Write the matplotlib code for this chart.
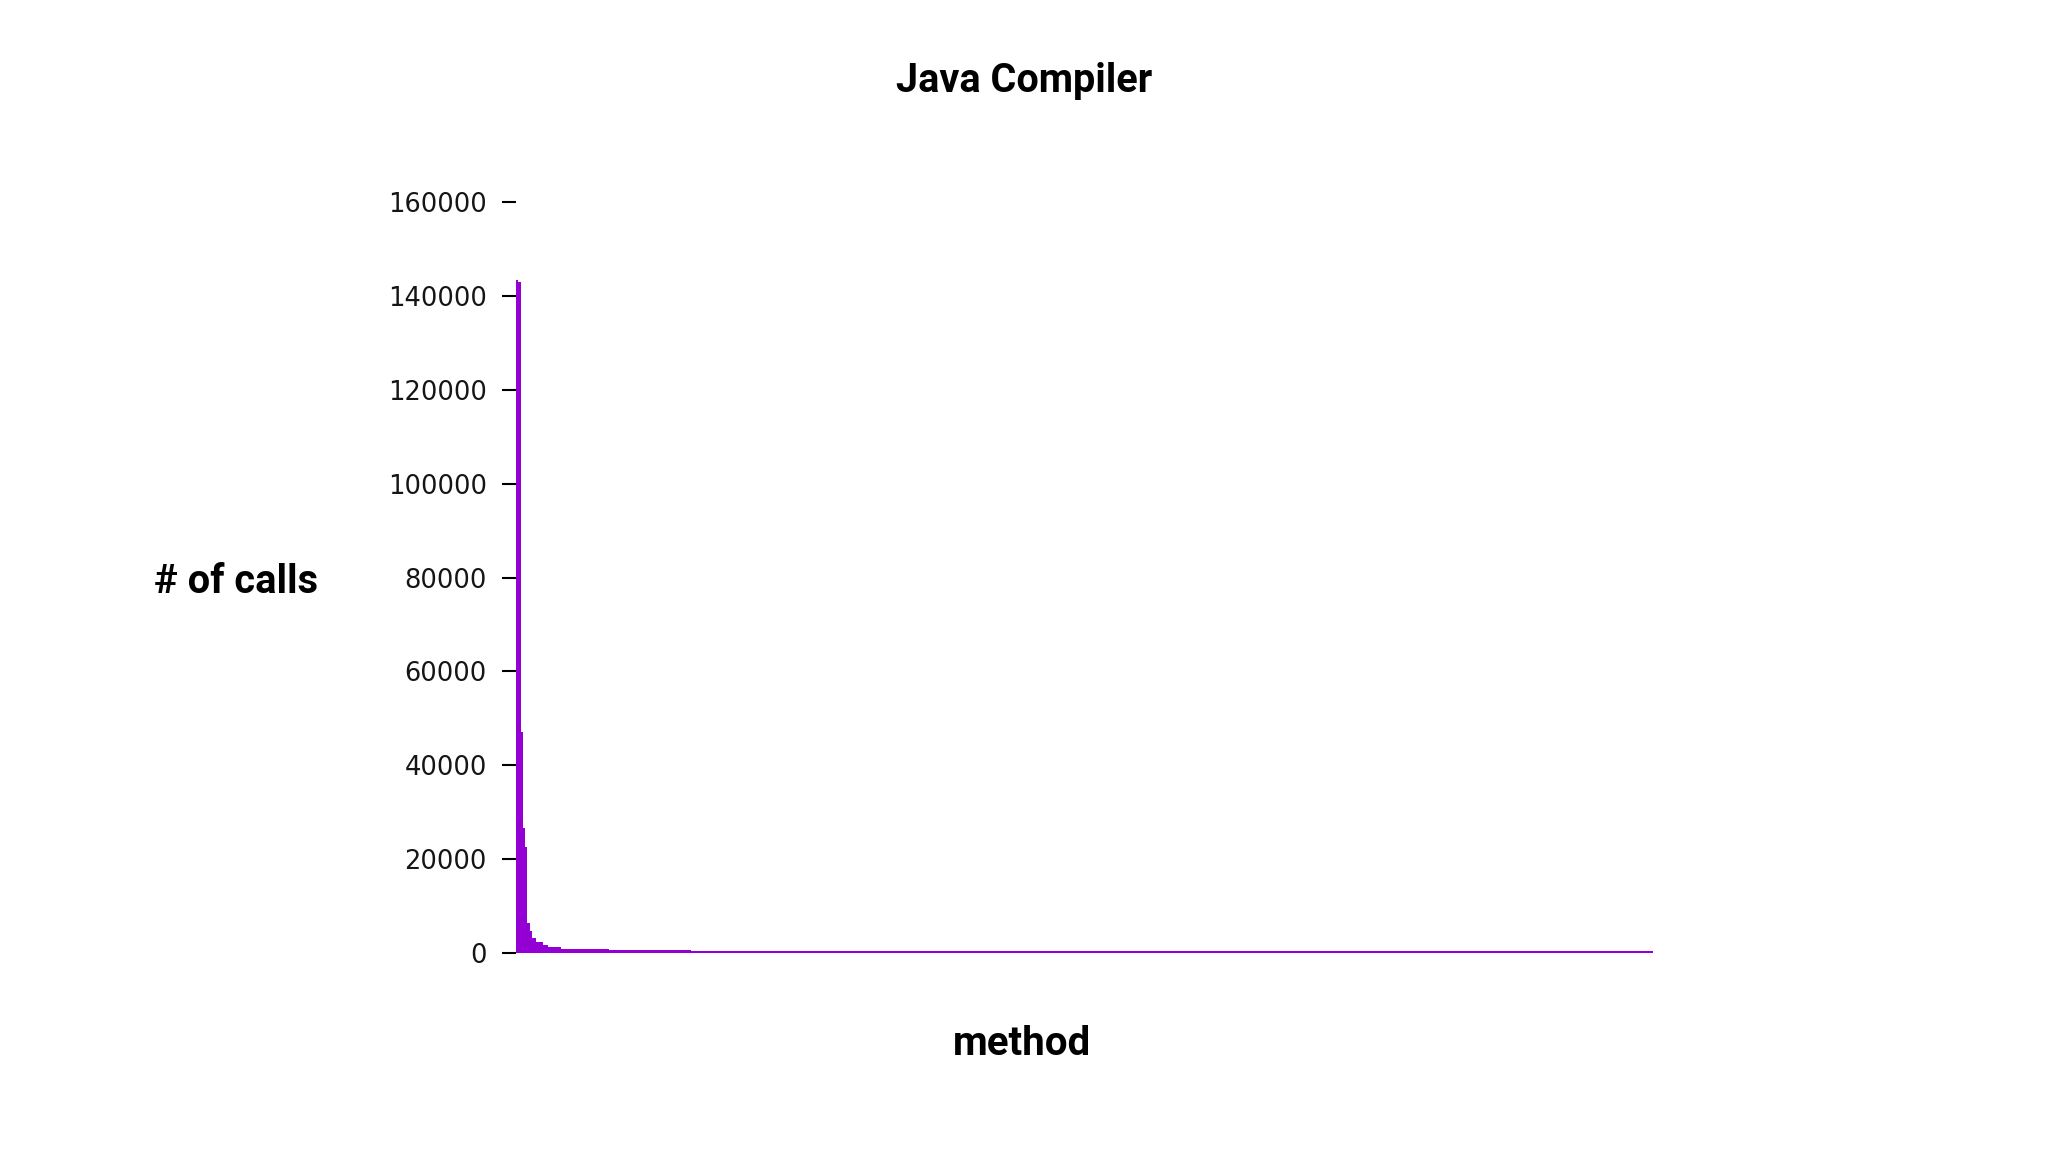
"""Call counts per method for the Java compiler, sorted descending."""

import matplotlib.pyplot as plt
import numpy as np

# head of the distribution, one value per method
head_calls = [143300, 143000, 47000, 26600, 22500, 6400, 4700, 3300, 3200,
              2300, 2300, 2300, 1700, 1700, 1300, 1300, 1300, 1300, 1300, 1300]
# long flat tail, stored as (level, number of methods at that level)
tail_levels = [850, 700, 600, 520, 450]
tail_counts = [21, 18, 18, 78, 345]

y_ticks = [0, 20000, 40000, 60000, 80000, 100000, 120000, 140000, 160000]

calls = np.array(head_calls + [lvl for lvl, n in zip(tail_levels, tail_counts) for _ in range(n)])
methods = np.arange(len(calls))

fig = plt.figure(figsize=(20.48, 11.52), dpi=100)
ax = fig.add_axes([516 / 2048, 1 - 953 / 1152, (1653 - 516) / 2048, (953 - 202) / 1152])

ax.bar(methods, calls, width=1.0, color="#9400D3", linewidth=0)
ax.set_xlim(-0.5, len(calls) - 0.5)
ax.set_ylim(0, 160000)
ax.set_yticks(y_ticks)
ax.set_yticklabels([str(t) for t in y_ticks], fontsize=18.5, color="#151515", family="DejaVu Sans")
ax.tick_params(axis="y", length=10, width=1.5, pad=11, color="black")
ax.set_xticks([])
for side in ax.spines.values():
    side.set_visible(False)

fig.text(1024 / 2048, 1 - 81 / 1152, "Java Compiler", ha="center", va="center",
         fontsize=28.5, fontweight="bold", family="Roboto")
fig.text(236 / 2048, 1 - 582 / 1152, "# of calls", ha="center", va="center",
         fontsize=28.7, fontweight="bold", family="Roboto")
fig.text(1022 / 2048, 1 - 1044 / 1152, "method", ha="center", va="center",
         fontsize=29, fontweight="bold", family="Roboto")

fig.savefig("out.png", dpi=100, facecolor="white")
